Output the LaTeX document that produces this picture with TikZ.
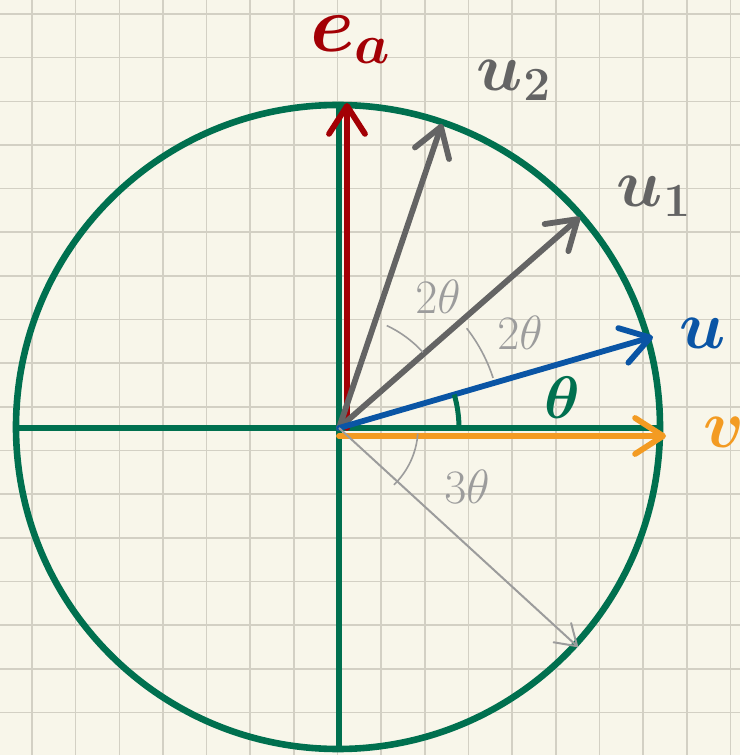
\documentclass[tikz,border=0pt]{standalone}
\usepackage{fix-cm}
\usepackage{amsmath,amssymb}
\usetikzlibrary{arrows.meta}
\definecolor{paper}{HTML}{F8F6EA}
\definecolor{gln}{HTML}{D3D0C4}
\definecolor{grn}{HTML}{00704F}
\definecolor{ear}{HTML}{A30005}
\definecolor{blu}{HTML}{0A55A5}
\definecolor{org}{HTML}{F39B22}
\definecolor{dgr}{HTML}{646464}
\definecolor{lgr}{HTML}{9C9C9C}
\tikzset{
  gline/.style={gln,line width=.75pt},
  ax/.style={grn,line width=2.7pt},
  vec/.style={line width=2.9pt,line cap=round,-{Straight Barb[round,length=14pt,width=18pt]}},
  ang/.style={lgr,line width=.8pt},
  vlbl/.style={inner sep=0pt,font=\fontsize{34}{34}\selectfont\boldmath},
  albl/.style={inner sep=0pt,lgr,font=\fontsize{24}{24}\selectfont},
}

\begin{document}
\begin{tikzpicture}[x=.5pt,y=.5pt]
% paper
\fill[paper] (-339,-327) rectangle (401,428);
\useasboundingbox (-339,-327) rectangle (401,428);
\foreach \i in {0,...,16} \draw[gline] (-307+43.65*\i,-327) -- (-307+43.65*\i,428);
\foreach \j in {0,...,16} \draw[gline] (-339,414-43.65*\j) -- (401,414-43.65*\j);
% unit circle and axes
\coordinate (O) at (0,0);
\coordinate (top) at (0,323); \coordinate (bot) at (0,-321);
\coordinate (lft) at (-323,0); \coordinate (rgt) at (321,0);
\draw[grn,line width=3.3pt] (-1,1) circle[radius=322];
\draw[ax] (top) -- (bot);
\draw[ax] (lft) -- (rgt);
% vectors
\coordinate (ea0) at (8,0); \coordinate (ea) at (8,325);
\coordinate (v0) at (0,-8); \coordinate (vt) at (327,-8);
\coordinate (u2) at (71.3:321);
\coordinate (u1) at (41.2:320);
\coordinate (ut) at (16.2:327);
\coordinate (w3) at (-42.5:324);
\draw[vec,org] (v0) -- (vt);
\draw[vec,ear] (ea0) -- (ea);
\draw[vec,dgr] (O) -- (u2);
\draw[vec,dgr] (O) -- (u1);
\draw[vec,blu] (O) -- (ut);
\draw[lgr,line width=1pt,-{Straight Barb[round,length=10pt,width=13pt]}] (O) -- (w3);
% angles
\draw[grn,line width=2.5pt] (0:120) arc[start angle=0,end angle=16.2,radius=120];
\draw[ang] (42:113) arc[start angle=42,end angle=65,radius=113];
\draw[ang] (18:162) arc[start angle=18,end angle=38,radius=162];
\draw[ang] (-4:79) arc[start angle=-4,end angle=-46,radius=79];
% labels
\node[ear,inner sep=0pt,font=\fontsize{40}{40}\selectfont\boldmath] (eal) at (12,388) {$e_a$};
\node[vlbl,dgr] (u2l) at (175,348) {$u_2$};
\node[vlbl,dgr] (u1l) at (315,232) {$u_1$};
\node[vlbl,blu] (ul) at (364,95) {$u$};
\node[vlbl,org] (vl) at (385,-4) {$v$};
\node[grn,inner sep=0pt,font=\fontsize{30}{30}\selectfont\boldmath] (thl) at (223,30) {$\theta$};
\node[albl] (a1) at (99,131) {$2\theta$};
\node[albl] (a2) at (181,95) {$2\theta$};
\node[albl] (a3) at (128,-59) {$3\theta$};
\end{tikzpicture}
\end{document}
